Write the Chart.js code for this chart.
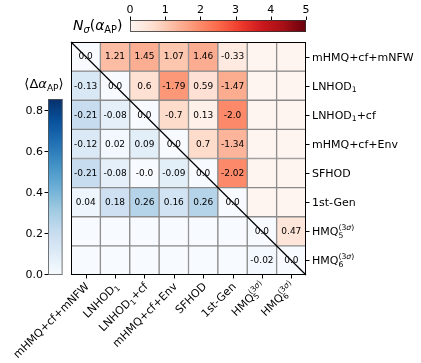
<!DOCTYPE html>
<html><head><meta charset="utf-8">
<script src="https://cdn.jsdelivr.net/npm/chart.js@4"></script>
<style>
html,body{margin:0;padding:0;background:#fff;}
#wrap{position:relative;width:421px;height:363px;overflow:hidden;}
canvas{position:absolute;left:0;top:0;}
</style>
</head><body>
<div id="wrap">
<canvas id="main" width="421" height="363"></canvas>
<canvas id="cbTop" width="421" height="363"></canvas>
<canvas id="cbLeft" width="421" height="363"></canvas>
</div>
<script>
// ---------------- data ----------------
const models = ['mHMQ+cf+mNFW', 'LNHOD_{1}', 'LNHOD_{1}+cf', 'mHMQ+cf+Env', 'SFHOD', '1st-Gen', 'HMQ_{5}^{(3$σ$)}', 'HMQ_{6}^{(3$σ$)}'];
// upper triangle: N_sigma(alpha_AP); lower triangle: <Delta alpha_AP>
const row0 = [0.0, 1.21, 1.45, 1.07, 1.46, -0.33, null, null];
const row1 = [-0.13, 0.0, 0.6, -1.79, 0.59, -1.47, null, null];
const row2 = [-0.21, -0.08, 0.0, -0.7, 0.13, -2.0, null, null];
const row3 = [-0.12, 0.02, 0.09, 0.0, 0.7, -1.34, null, null];
const row4 = [-0.21, -0.08, -0.0, -0.09, 0.0, -2.02, null, null];
const row5 = [0.04, 0.18, 0.26, 0.16, 0.26, 0.0, null, null];
const row6 = [null, null, null, null, null, null, 0.0, 0.47];
const row7 = [null, null, null, null, null, null, -0.02, 0.0];
const rows = [row0, row1, row2, row3, row4, row5, row6, row7];
const nsigmaTicks = [0, 1, 2, 3, 4, 5];
const nsigmaMax = 5;
const deltaTicks = [0.0, 0.2, 0.4, 0.6, 0.8];
const deltaMax = 0.86;

// ---------------- helpers ----------------
const FONT = '"DejaVu Sans", "Liberation Sans", sans-serif';
const REDS = ['#fff5f0','#fee0d2','#fcbba1','#fc9272','#fb6a4a','#ef3b2c','#cb181d','#a50f15','#67000d'];
const BLUES = ['#f7fbff','#deebf7','#c6dbef','#9ecae1','#6baed6','#4292c6','#2171b5','#08519c','#08306b'];
function hex2rgb(h){return [parseInt(h.slice(1,3),16),parseInt(h.slice(3,5),16),parseInt(h.slice(5,7),16)];}
function cmap(stops, t){
  t = Math.max(0, Math.min(1, t));
  const p = t*(stops.length-1); const i = Math.min(stops.length-2, Math.floor(p)); const f = p - i;
  const a = hex2rgb(stops[i]), b = hex2rgb(stops[i+1]);
  return 'rgb(' + a.map((v,k)=>Math.round(v + (b[k]-v)*f)).join(',') + ')';
}
function cellColor(r, c, v){
  const a = v == null ? 0 : Math.abs(v);
  if (r === c) return cmap(BLUES, 0);
  if (c > r) return cmap(REDS, a / nsigmaMax);
  return cmap(BLUES, a / deltaMax);
}
function fmt(v){
  if (Object.is(v, -0)) return '-0.0';
  let s = String(v);
  if (!s.includes('.')) s += '.0';
  return s;
}
function parseRich(s){
  const segs = []; const re = /_\{([^}]*)\}|\^\{([^}]*)\}|([^_^]+)/g; let m;
  while ((m = re.exec(s))) {
    if (m[1] !== undefined) segs.push({t:m[1], kind:'sub'});
    else if (m[2] !== undefined) segs.push({t:m[2], kind:'sup'});
    else segs.push({t:m[3], kind:'n'});
  }
  return segs;
}
function layoutRich(ctx, s, size){
  const segs = parseRich(s); const items = []; let x = 0; let pend = 0;
  segs.forEach((sg, i) => {
    const sz = sg.kind === 'n' ? size : size*0.7;
    const dy = sg.kind === 'sub' ? size*0.22 : (sg.kind === 'sup' ? -size*0.45 : 0);
    let w = 0;
    sg.t.split('$').forEach((p, k) => {
      if (!p) return;
      const font = (k % 2 ? 'italic ' : '') + sz + 'px ' + FONT;
      ctx.font = font;
      items.push({p, font, x: x + w, dy});
      w += ctx.measureText(p).width;
    });
    const nextSup = sg.kind === 'sub' && segs[i+1] && segs[i+1].kind === 'sup';
    if (nextSup) { pend = w; }
    else if (sg.kind === 'sup') { x += Math.max(w, pend); pend = 0; }
    else x += w;
  });
  return {items, width: x};
}
function drawRich(ctx, s, size, x, y, align){
  ctx.save();
  const L = layoutRich(ctx, s, size);
  const off = align === 'right' ? -L.width : (align === 'center' ? -L.width/2 : 0);
  ctx.textAlign = 'left'; ctx.textBaseline = 'alphabetic'; ctx.fillStyle = '#000';
  L.items.forEach(it => { ctx.font = it.font; ctx.fillText(it.p, x + off + it.x, y + it.dy); });
  ctx.restore();
}

// ---------------- main matrix chart ----------------
const mainDecor = {
  id: 'mainDecor',
  afterDatasetsDraw(chart){
    const ctx = chart.ctx; const xs = chart.scales.x; const ys = chart.scales.y; const ca = chart.chartArea;
    ctx.save();
    // cell values
    ctx.font = '9px ' + FONT; ctx.fillStyle = '#000'; ctx.textAlign = 'center'; ctx.textBaseline = 'middle';
    rows.forEach((row, r) => row.forEach((v, c) => {
      if (v == null) return;
      ctx.fillText(fmt(v), xs.getPixelForValue(c), ys.getPixelForValue(r) + 0.5);
    }));
    // diagonal line
    ctx.strokeStyle = '#000'; ctx.lineWidth = 1.2;
    ctx.beginPath(); ctx.moveTo(ca.left, ca.top); ctx.lineTo(ca.right, ca.bottom); ctx.stroke();
    // frame
    ctx.lineWidth = 1; ctx.strokeRect(ca.left + 0.5, ca.top + 0.5, ca.right - ca.left - 1, ca.bottom - ca.top - 1);
    // ticks
    ctx.beginPath();
    models.forEach((m, i) => {
      const px = Math.round(xs.getPixelForValue(i)) + 0.5;
      ctx.moveTo(px, ca.bottom); ctx.lineTo(px, ca.bottom + 3.5);
      const py = Math.round(ys.getPixelForValue(i)) + 0.5;
      ctx.moveTo(ca.right, py); ctx.lineTo(ca.right + 3.5, py);
    });
    ctx.stroke();
    // right labels
    models.forEach((m, i) => drawRich(ctx, m, 11, ca.right + 6, ys.getPixelForValue(i) + 4, 'left'));
    // bottom rotated labels
    models.forEach((m, i) => {
      ctx.save();
      ctx.translate(xs.getPixelForValue(i) + 4, ca.bottom + 12);
      ctx.rotate(-Math.PI/4);
      drawRich(ctx, m, 11, 0, 0, 'right');
      ctx.restore();
    });
    ctx.restore();
  }
};
new Chart(document.getElementById('main'), {
  type: 'bar',
  data: {
    labels: models,
    datasets: rows.map((row, r) => ({
      label: models[r],
      data: row.map(() => [r - 0.5, r + 0.5]),
      backgroundColor: row.map((v, c) => cellColor(r, c, v)),
      borderColor: '#8a8a8a', borderWidth: 1, borderSkipped: false,
      barPercentage: 1, categoryPercentage: 1, grouped: false
    }))
  },
  options: {
    responsive: false, animation: false, devicePixelRatio: 1,
    layout: { padding: { left: 71, top: 42, right: 115, bottom: 88 } },
    plugins: { legend: { display: false }, tooltip: { enabled: false } },
    scales: {
      x: { type: 'category', display: false, offset: true },
      y: { type: 'linear', display: false, min: -0.5, max: 7.5, reverse: true }
    }
  },
  plugins: [mainDecor]
});

// ---------------- top colorbar (N_sigma) ----------------
function gradFill(stops, vertical){
  return (c) => {
    const ca = c.chart.chartArea; if (!ca) return stops[0];
    const g = vertical ? c.chart.ctx.createLinearGradient(0, ca.bottom, 0, ca.top)
                       : c.chart.ctx.createLinearGradient(ca.left, 0, ca.right, 0);
    stops.forEach((s, i) => g.addColorStop(i/(stops.length-1), s));
    return g;
  };
}
const topDecor = {
  id: 'topDecor',
  afterDatasetsDraw(chart){
    const ctx = chart.ctx; const xs = chart.scales.x; const ca = chart.chartArea;
    ctx.save();
    ctx.strokeStyle = '#333'; ctx.lineWidth = 0.8;
    ctx.strokeRect(ca.left + 0.4, ca.top + 0.4, ca.right - ca.left - 0.8, ca.bottom - ca.top - 0.8);
    ctx.strokeStyle = '#000'; ctx.lineWidth = 1; ctx.beginPath();
    nsigmaTicks.forEach(t => { const px = Math.round(xs.getPixelForValue(t)) + 0.5; ctx.moveTo(px, ca.top); ctx.lineTo(px, ca.top - 3.5); });
    ctx.stroke();
    ctx.font = '11px ' + FONT; ctx.fillStyle = '#000'; ctx.textAlign = 'center'; ctx.textBaseline = 'alphabetic';
    nsigmaTicks.forEach(t => ctx.fillText(String(t), xs.getPixelForValue(t), ca.top - 7));
    drawRich(ctx, '$N$_{$σ$}($α$_{AP})', 14, ca.left - 57, ca.bottom - 2, 'left');
    ctx.restore();
  }
};
new Chart(document.getElementById('cbTop'), {
  type: 'bar',
  data: { labels: ['Nσ'], datasets: [{ data: [[0, nsigmaMax]], backgroundColor: gradFill(REDS, false), borderWidth: 0, barPercentage: 1, categoryPercentage: 1 }] },
  options: {
    indexAxis: 'y', responsive: false, animation: false, devicePixelRatio: 1,
    layout: { padding: { left: 130, top: 20, right: 421 - 306, bottom: 363 - 32 } },
    plugins: { legend: { display: false }, tooltip: { enabled: false } },
    scales: { x: { type: 'linear', display: false, min: 0, max: nsigmaMax }, y: { type: 'category', display: false } }
  },
  plugins: [topDecor]
});

// ---------------- left colorbar (Delta alpha) ----------------
const leftDecor = {
  id: 'leftDecor',
  afterDatasetsDraw(chart){
    const ctx = chart.ctx; const ys = chart.scales.y; const ca = chart.chartArea;
    ctx.save();
    ctx.strokeStyle = '#555'; ctx.lineWidth = 0.8;
    ctx.strokeRect(ca.left + 0.4, ca.top + 0.4, ca.right - ca.left - 0.8, ca.bottom - ca.top - 0.8);
    ctx.strokeStyle = '#000'; ctx.lineWidth = 1; ctx.beginPath();
    deltaTicks.forEach(t => { const py = Math.round(ys.getPixelForValue(t)) - 0.5; ctx.moveTo(ca.left, py); ctx.lineTo(ca.left - 3.5, py); });
    ctx.stroke();
    ctx.font = '11px ' + FONT; ctx.fillStyle = '#000'; ctx.textAlign = 'right'; ctx.textBaseline = 'middle';
    deltaTicks.forEach(t => ctx.fillText(t.toFixed(1), ca.left - 5, ys.getPixelForValue(t)));
    drawRich(ctx, '⟨Δ$α$_{AP}⟩', 13, 44, 88, 'center');
    ctx.restore();
  }
};
new Chart(document.getElementById('cbLeft'), {
  type: 'bar',
  data: { labels: ['Δα'], datasets: [{ data: [[0, deltaMax]], backgroundColor: gradFill(BLUES, true), borderWidth: 0, barPercentage: 1, categoryPercentage: 1 }] },
  options: {
    responsive: false, animation: false, devicePixelRatio: 1,
    layout: { padding: { left: 48, top: 99, right: 421 - 62.5, bottom: 363 - 275 } },
    plugins: { legend: { display: false }, tooltip: { enabled: false } },
    scales: { x: { type: 'category', display: false }, y: { type: 'linear', display: false, min: 0, max: deltaMax } }
  },
  plugins: [leftDecor]
});
</script>
</body></html>
